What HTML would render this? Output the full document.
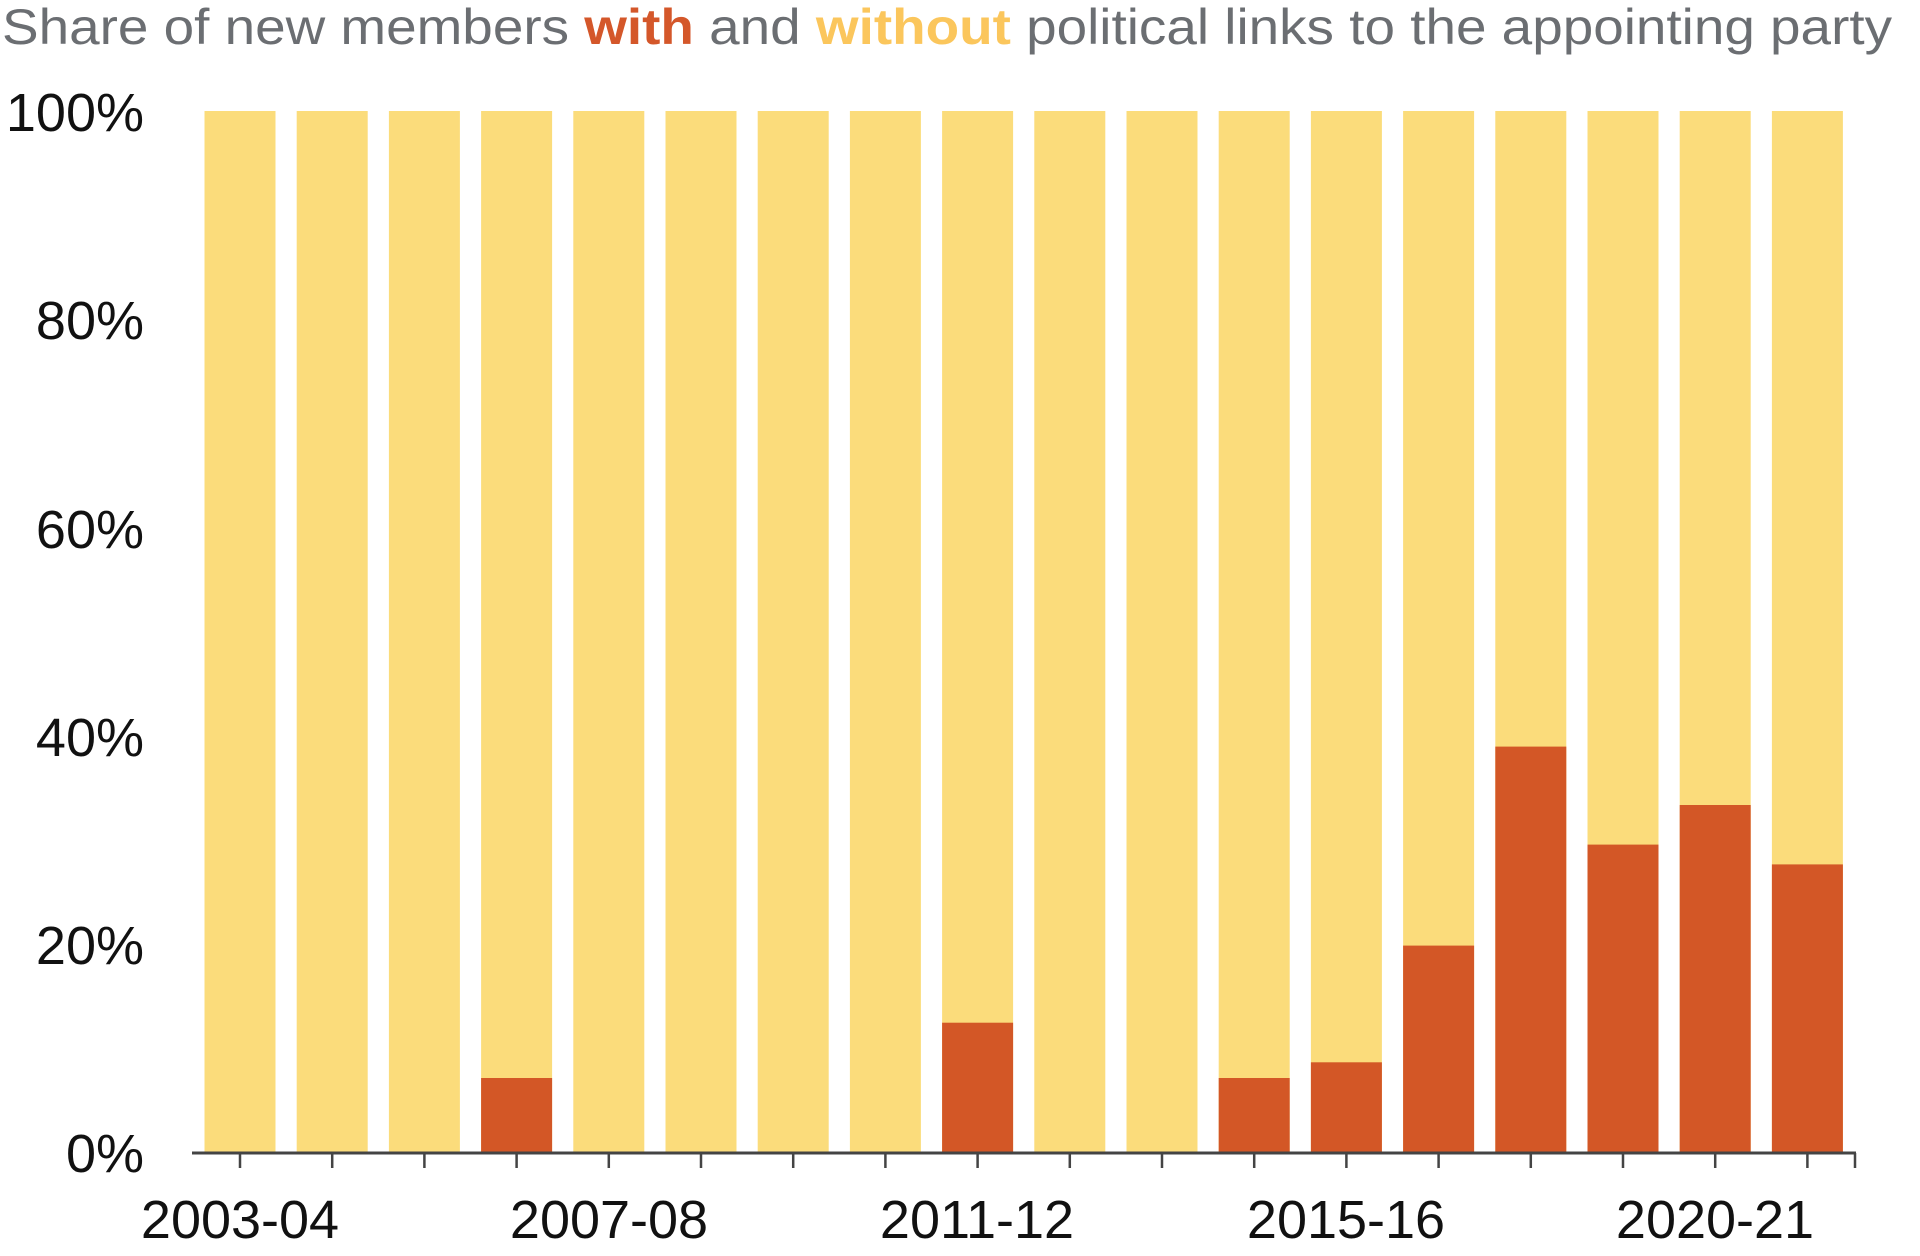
<!DOCTYPE html>
<html><head><meta charset="utf-8"><style>body{margin:0;background:#fff}svg{display:block}</style></head>
<body>
<svg width="1920" height="1256" xmlns="http://www.w3.org/2000/svg" font-family="Liberation Sans, sans-serif">
<text x="2" y="44" font-size="50" fill="#6b6e72" textLength="1890" lengthAdjust="spacingAndGlyphs">Share of new members <tspan fill="#d4572a" font-weight="bold">with</tspan> and <tspan fill="#fbc65c" font-weight="bold">without</tspan> political links to the appointing party</text>
<g font-size="54" fill="#111" text-anchor="end">
<text x="144" y="131">100%</text>
<text x="144" y="339">80%</text>
<text x="144" y="548">60%</text>
<text x="144" y="756">40%</text>
<text x="144" y="964">20%</text>
<text x="144" y="1172">0%</text>
</g>
<g fill="#fbdc7b">
<rect x="204.5" y="111" width="71" height="1042"/>
<rect x="296.7" y="111" width="71" height="1042"/>
<rect x="388.9" y="111" width="71" height="1042"/>
<rect x="481.1" y="111" width="71" height="1042"/>
<rect x="573.3" y="111" width="71" height="1042"/>
<rect x="665.5" y="111" width="71" height="1042"/>
<rect x="757.7" y="111" width="71" height="1042"/>
<rect x="849.9" y="111" width="71" height="1042"/>
<rect x="942.1" y="111" width="71" height="1042"/>
<rect x="1034.3" y="111" width="71" height="1042"/>
<rect x="1126.5" y="111" width="71" height="1042"/>
<rect x="1218.7" y="111" width="71" height="1042"/>
<rect x="1310.9" y="111" width="71" height="1042"/>
<rect x="1403.1" y="111" width="71" height="1042"/>
<rect x="1495.3" y="111" width="71" height="1042"/>
<rect x="1587.5" y="111" width="71" height="1042"/>
<rect x="1679.7" y="111" width="71" height="1042"/>
<rect x="1771.9" y="111" width="71" height="1042"/>
</g>
<g fill="#d35726">
<rect x="481.1" y="1078" width="71" height="75"/>
<rect x="942.1" y="1022.7" width="71" height="130.3"/>
<rect x="1218.7" y="1078" width="71" height="75"/>
<rect x="1310.9" y="1062.3" width="71" height="90.7"/>
<rect x="1403.1" y="945.6" width="71" height="207.4"/>
<rect x="1495.3" y="746.6" width="71" height="406.4"/>
<rect x="1587.5" y="844.6" width="71" height="308.4"/>
<rect x="1679.7" y="805" width="71" height="348"/>
<rect x="1771.9" y="864.4" width="71" height="288.6"/>
</g>
<line x1="192" y1="1153" x2="1856" y2="1153" stroke="#444" stroke-width="3"/>
<path stroke="#444" stroke-width="2.5" d="M240 1153v15M332.2 1153v15M424.4 1153v15M516.6 1153v15M608.8 1153v15M701 1153v15M793.2 1153v15M885.4 1153v15M977.6 1153v15M1069.8 1153v15M1162 1153v15M1254.2 1153v15M1346.4 1153v15M1438.6 1153v15M1530.8 1153v15M1623 1153v15M1715.2 1153v15M1807.4 1153v15M1855 1153v15"/>
<g font-size="54" fill="#111" text-anchor="middle">
<text x="240" y="1238">2003-04</text>
<text x="609" y="1238">2007-08</text>
<text x="977" y="1238">2011-12</text>
<text x="1346" y="1238">2015-16</text>
<text x="1715" y="1238">2020-21</text>
</g>
</svg>
</body></html>
